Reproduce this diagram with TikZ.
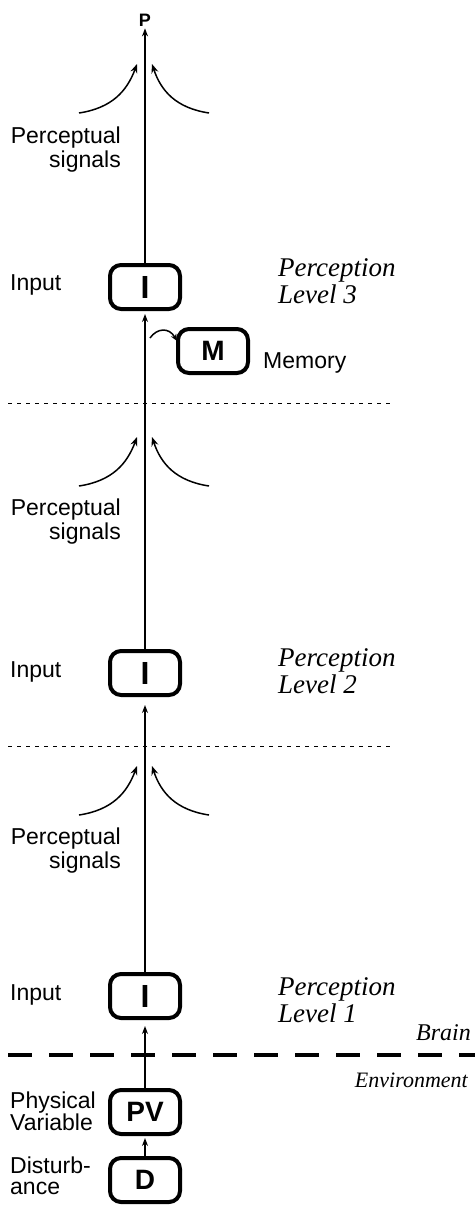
\documentclass[tikz,border=0pt]{standalone}
\usepackage{fontspec}
\setmainfont{Liberation Sans}
\newfontfamily\serifit{Liberation Serif}[ItalicFont={Liberation Serif Italic}]
\usetikzlibrary{arrows.meta}
\begin{document}
\begin{tikzpicture}[x=1pt,y=-1pt,
  box/.style={draw,line width=4pt,rounded corners=11pt,minimum width=70pt,minimum height=44pt,inner sep=0pt,font=\fontsize{28}{28}\selectfont\bfseries},
  ibox/.style={box,font=\fontsize{32}{32}\selectfont\bfseries},
  flow/.style={line width=1.5pt,-{Stealth[length=8pt,width=6pt]}},
  sig/.style={line width=1.5pt,-{Stealth[length=9pt,width=7pt]}},
  lbl/.style={font=\fontsize{23}{24}\selectfont,inner sep=0pt},
  lvl/.style={font=\fontsize{27}{27}\selectfont\serifit\itshape,inner sep=0pt,align=left},
  thindash/.style={line width=1pt,dash pattern=on 4pt off 5pt},
  thickdash/.style={line width=4pt,dash pattern=on 24pt off 17pt}]
\useasboundingbox (0,0) rectangle (475,1205);
% nodes
\node[font=\fontsize{18}{18}\selectfont\bfseries,inner sep=0pt] (P) at (145,20) {P};
\node[ibox] (I3) at (145,287) {I};
\node[box] (M) at (213,351) {M};
\node[ibox] (I2) at (145,673) {I};
\node[ibox] (I1) at (145,996) {I};
\node[box] (PV) at (145,1112) {PV};
\node[box] (D) at (145,1180) {D};
% labels
\node[lbl,anchor=east,align=right] (ps3) at (121,150) {Perceptual\\signals};
\node[lbl,anchor=east,align=right] (ps2) at (121,522) {Perceptual\\signals};
\node[lbl,anchor=east,align=right] (ps1) at (121,851) {Perceptual\\signals};
\node[lbl,anchor=west] (in3) at (10,285) {Input};
\node[lbl,anchor=west] (in2) at (10,672) {Input};
\node[lbl,anchor=west] (in1) at (10,995) {Input};
\node[lbl,anchor=west] (mem) at (263,363) {Memory};
\node[lvl,anchor=west] (pl3) at (278,281) {Perception\\Level 3};
\node[lvl,anchor=west] (pl2) at (278,671) {Perception\\Level 2};
\node[lvl,anchor=west] (pl1) at (278,1000) {Perception\\Level 1};
\node[lvl,font=\fontsize{24}{24}\selectfont\serifit\itshape,anchor=east] (brain) at (471,1033) {Brain};
\node[lvl,font=\fontsize{22}{22}\selectfont\serifit\itshape,anchor=east] (env) at (468,1080) {Environment};
\node[font=\fontsize{23}{21}\selectfont,inner sep=0pt,anchor=west,align=left] (phys) at (10,1111) {Physical\\Variable};
\node[font=\fontsize{23}{21}\selectfont,inner sep=0pt,anchor=west,align=left] (dist) at (10,1176) {Disturb-\\ance};
% main connectors
\draw[flow,shorten >=2pt] (I3.north) -- (P.south);
\draw[flow,shorten >=3pt] (I2.north) -- (I3.south);
\draw[flow,shorten >=8pt] (I1.north) -- (I2.south);
\draw[flow,shorten >=6pt] (PV.north) -- (I1.south);
\draw[flow,shorten >=2pt] (D.north) -- (PV.south);
% perceptual signal curves
\foreach \n/\y in {3/113,2/486,1/815}{
  \coordinate (l\n s) at (79,\y);
  \coordinate (l\n e) at (137,\y-49);
  \coordinate (r\n s) at (209,\y);
  \coordinate (r\n e) at (152,\y-49);
  \draw[sig] (l\n s) .. controls (112,\y-5) and (127,\y-22) .. (l\n e);
  \draw[sig] (r\n s) .. controls (176,\y-5) and (161,\y-22) .. (r\n e);
}
% memory arrow
\coordinate (ms) at (150,338);
\coordinate (me) at (177,341);
\draw[line width=1.5pt,-{Stealth[length=7pt,width=6pt]}] (ms) .. controls (157,328) and (169,327) .. (me);
% dashed separators
\coordinate (d1a) at (8,403); \coordinate (d1b) at (392,403);
\coordinate (d2a) at (8,746); \coordinate (d2b) at (392,746);
\coordinate (d3a) at (8,1055); \coordinate (d3b) at (475,1055);
\draw[thindash] (d1a) -- (d1b);
\draw[thindash] (d2a) -- (d2b);
\draw[thickdash] (d3a) -- (d3b);
\end{tikzpicture}
\end{document}
